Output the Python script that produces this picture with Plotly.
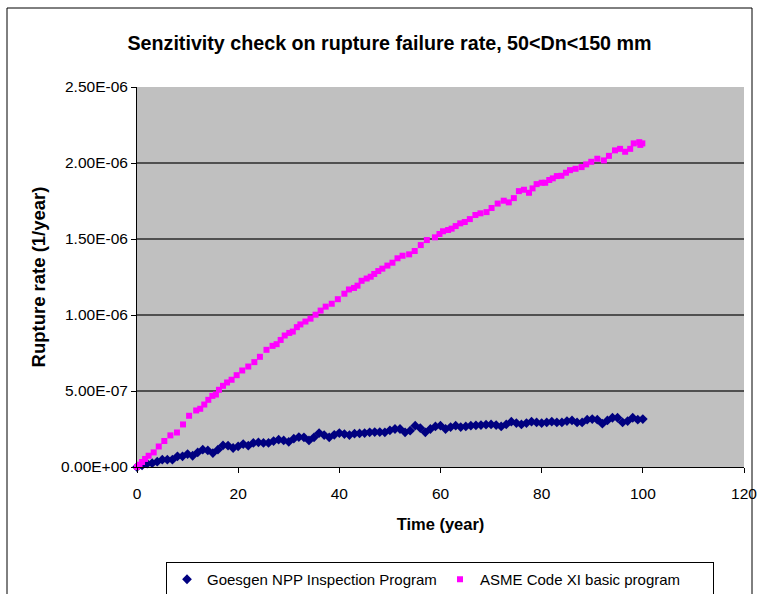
import plotly.graph_objects as go

# ---- data (rates in units of 1e-7 per year) ----
goesgen_years = list(range(0, 101))
goesgen_e7 = [0, 0.10, 0.22, 0.25, 0.35, 0.48, 0.48, 0.48, 0.70, 0.70,
              0.85, 0.74, 0.96, 1.14, 1.09, 0.92, 1.14, 1.42, 1.40, 1.25,
              1.36, 1.51, 1.40, 1.58, 1.62, 1.58, 1.58, 1.71, 1.80, 1.75,
              1.66, 1.86, 1.97, 1.95, 1.75, 1.95, 2.23, 2.10, 1.95, 2.12,
              2.23, 2.17, 2.10, 2.19, 2.21, 2.23, 2.28, 2.30, 2.30, 2.28,
              2.41, 2.50, 2.50, 2.28, 2.39, 2.72, 2.56, 2.28, 2.50, 2.67,
              2.72, 2.50, 2.63, 2.72, 2.63, 2.67, 2.72, 2.74, 2.76, 2.78,
              2.80, 2.76, 2.67, 2.80, 2.98, 2.89, 2.80, 2.89, 2.98, 2.93,
              2.89, 2.93, 2.98, 2.93, 2.93, 3.02, 3.06, 2.93, 2.93, 3.11,
              3.15, 3.11, 2.85, 3.06, 3.24, 3.24, 2.93, 3.02, 3.24, 3.11,
              3.15]

asme_years = [0, 0.5, 1.0, 1.6, 2.3, 3.3, 4.3, 5.4, 6.6, 7.9, 9.1, 10.3, 11.7,
              12.5, 13.3, 14.1, 14.9, 15.6, 16.2, 17.0, 17.8, 18.7, 19.7, 20.8,
              22.0, 23.2, 24.3, 25.6, 26.8, 27.6, 28.4, 29.2, 30.1, 30.8, 31.6,
              32.3, 33.3, 34.3, 35.3, 36.3, 37.3, 38.5, 39.7, 41.0, 41.9, 42.9,
              43.6, 44.4, 45.4, 46.2, 46.9, 47.7, 48.5, 49.5, 50.5, 51.5, 52.5,
              53.8, 54.9, 56.1, 57.3, 58.9, 59.8, 60.5, 61.5, 62.2, 63.0, 63.9,
              64.8, 65.8, 66.9, 67.9, 69.1, 70.1, 71.3, 72.5, 73.5, 74.5, 75.5,
              76.5, 77.5, 78.2, 79.0, 80.0, 80.7, 81.5, 82.2, 83.0, 83.9, 84.8,
              85.6, 86.7, 87.9, 88.8, 89.8, 91.0, 92.3, 93.3, 94.5, 95.5, 96.5,
              97.5, 98.2, 99.3, 99.5, 99.9]
asme_e7 = [0, 0.15, 0.33, 0.53, 0.74, 0.96, 1.35, 1.71, 2.08, 2.27, 2.80, 3.37,
           3.72, 3.83, 4.11, 4.42, 4.68, 4.77, 5.08, 5.34, 5.56, 5.74, 6.04, 6.35,
           6.61, 6.90, 7.25, 7.71, 7.97, 8.08, 8.36, 8.65, 8.82, 8.91, 9.20, 9.38,
           9.57, 9.76, 10.02, 10.29, 10.55, 10.74, 11.04, 11.40, 11.68, 11.78,
           11.93, 12.25, 12.40, 12.52, 12.70, 12.89, 13.05, 13.25, 13.44, 13.73,
           13.90, 13.99, 14.21, 14.60, 14.93, 15.11, 15.33, 15.51, 15.59, 15.68,
           15.85, 16.03, 16.12, 16.31, 16.58, 16.69, 16.77, 17.04, 17.33, 17.52,
           17.41, 17.69, 18.15, 18.24, 18.04, 18.33, 18.61, 18.70, 18.70, 18.88,
           18.99, 19.14, 19.16, 19.36, 19.53, 19.62, 19.73, 19.91, 20.08, 20.28,
           20.17, 20.47, 20.83, 20.93, 20.74, 20.93, 21.29, 21.37, 21.19, 21.29]

UNIT = 1e-7

y_tickvals = [0, 5e-7, 1e-6, 1.5e-6, 2e-6, 2.5e-6]
y_ticktext = ["0.00E+00", "5.00E-07", "1.00E-06", "1.50E-06", "2.00E-06", "2.50E-06"]
x_tickvals = [0, 20, 40, 60, 80, 100, 120]

title_text = "Senzitivity check on rupture failure rate, 50<Dn<150 mm"
series_names = ["Goesgen NPP Inspection Program", "ASME Code XI basic program"]

FONT = "Liberation Sans, Arial, sans-serif"

# plot area at 137..744 x 87..467 of the 758x594 page
ML, MT, MR, MB = 137, 87, 14, 127
PW, PH = 758 - ML - MR, 594 - MT - MB


def px_x(p):
    return (p - ML) / PW


def px_y(p):
    return (594 - MB - p) / PH


fig = go.Figure()
fig.add_trace(go.Scatter(
    x=goesgen_years, y=[v * UNIT for v in goesgen_e7], mode="markers",
    name=series_names[0],
    marker=dict(symbol="diamond", color="#000080", size=7.5),
    cliponaxis=False))
fig.add_trace(go.Scatter(
    x=asme_years, y=[v * UNIT for v in asme_e7], mode="markers",
    name=series_names[1],
    marker=dict(symbol="square", color="#FF00FF", size=6),
    cliponaxis=False))

fig.update_layout(
    width=758, height=594,
    margin=dict(l=ML, r=MR, t=MT, b=MB, autoexpand=False),
    paper_bgcolor="white", plot_bgcolor="#C0C0C0",
    font=dict(family=FONT, size=15.5, color="black"),
    title=dict(text="<b>" + title_text + "</b>", x=px_x(389.5), xref="paper",
               xanchor="center", y=1 - 43 / 594, yanchor="middle",
               font=dict(size=19.7, family=FONT)),
    showlegend=True,
    legend=dict(orientation="h", x=px_x(166), xanchor="left", y=px_y(562), yanchor="top",
                bordercolor="black", borderwidth=1, bgcolor="white",
                font=dict(size=15), itemwidth=30, tracegroupgap=0,
                entrywidthmode="pixels", entrywidth=228),
    xaxis=dict(range=[0, 120], tickvals=x_tickvals, showgrid=False, zeroline=False,
               showline=True, linecolor="black", linewidth=1,
               ticks="outside", ticklen=5, tickcolor="black",
               tickfont=dict(size=15.5), ticklabelstandoff=7,
               title=dict(text="<b>Time (year)</b>", font=dict(size=16.5), standoff=17)),
    yaxis=dict(range=[0, 2.5e-6], tickvals=y_tickvals, ticktext=y_ticktext,
               showgrid=True, gridcolor="#505050", gridwidth=1.5, zeroline=False,
               showline=True, linecolor="black", linewidth=1,
               ticks="outside", ticklen=5, tickcolor="black",
               tickfont=dict(size=15.5),
               title=dict(text="<b>Rupture rate (1/year)</b>", font=dict(size=18.5),
                          standoff=10)),
    shapes=[dict(type="rect", xref="paper", yref="paper",
                 x0=px_x(7), x1=px_x(752), y0=px_y(610), y1=px_y(8),
                 line=dict(color="black", width=1), fillcolor="rgba(0,0,0,0)",
                 layer="below")],
)

fig.write_html("out.html",
               config={"displayModeBar": False},
               post_script="document.body.style.margin='0';"
                           "document.documentElement.style.overflow='hidden';")
